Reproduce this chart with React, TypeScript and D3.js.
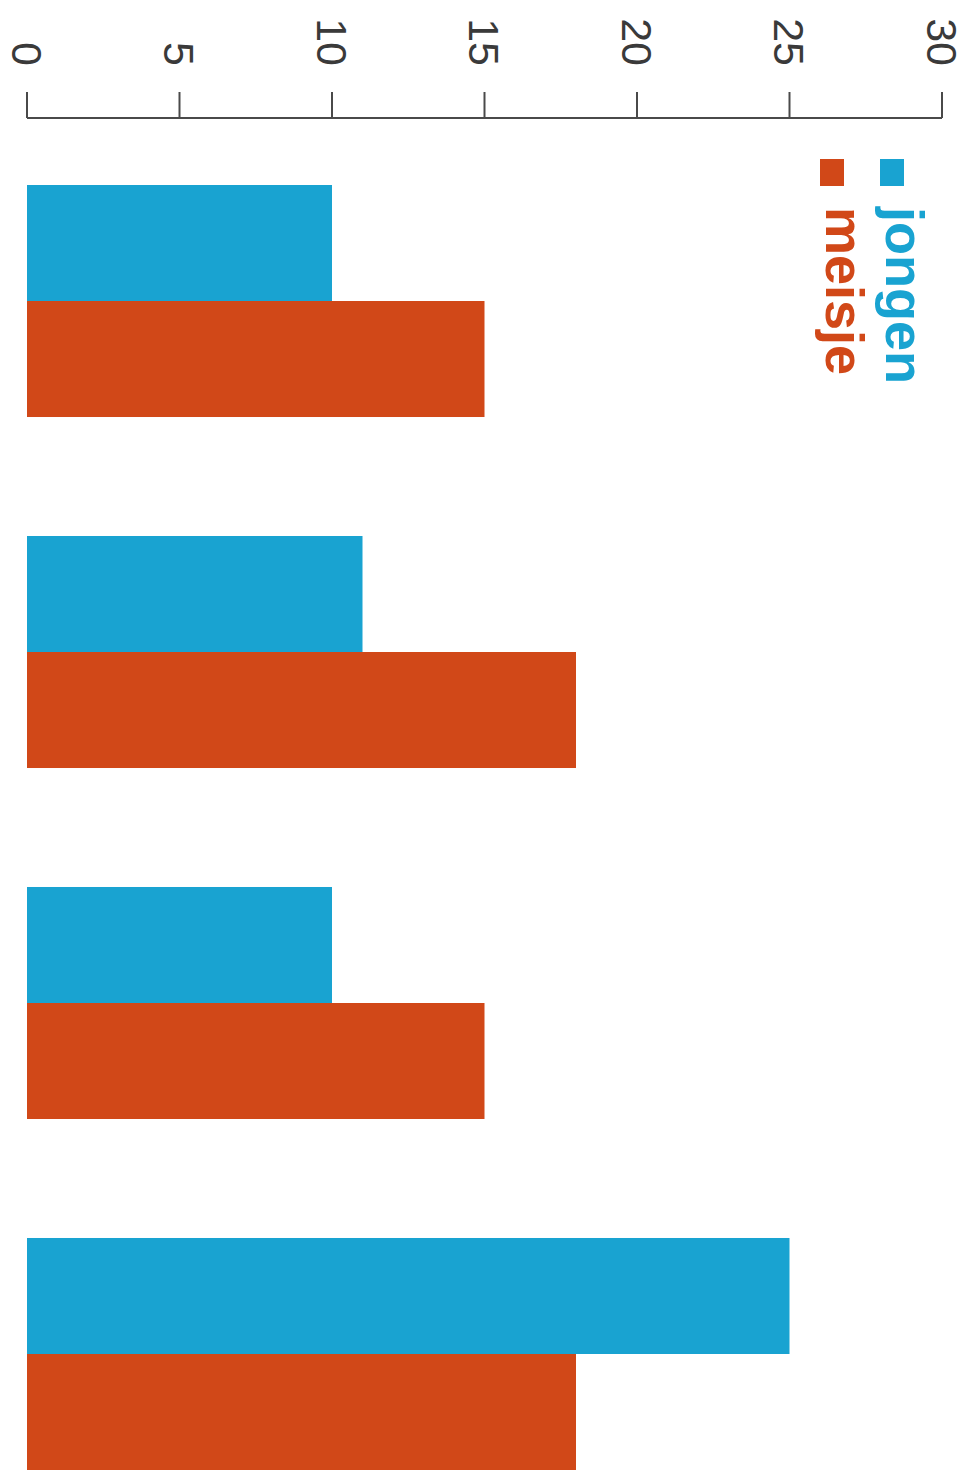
import React from "react";
import * as d3 from "d3";

const categories = ["1", "2", "3", "4"];
const seriesNames = ["jongen", "meisje"];
const jongenValues = [10, 11, 10, 25];
const meisjeValues = [15, 18, 15, 18];
const seriesColors = ["#19A3D1", "#D14818"];
const tickValues = [0, 5, 10, 15, 20, 25, 30];

const W = 967;
const H = 1470;

export default function App() {
  const x = d3.scaleLinear().domain([0, 30]).range([27, 942]);
  const y = d3
    .scaleBand<string>()
    .domain(categories)
    .range([185, 1470])
    .paddingInner(0.339)
    .paddingOuter(0);
  const inner = d3.scaleBand<string>().domain(seriesNames).range([0, y.bandwidth()]);
  const series = [jongenValues, meisjeValues];
  const axisY = 118;
  const axisColor = "#4a4a4a";

  return (
    <svg
      width={W}
      height={H}
      style={{ position: "absolute", left: 0, top: 0, display: "block", background: "#fff" }}
    >
      {/* bars */}
      {categories.map((c, i) => (
        <g key={c}>
          {seriesNames.map((s, j) => (
            <rect
              key={s}
              x={x(0)}
              y={(y(c) as number) + (inner(s) as number)}
              width={x(series[j][i]) - x(0)}
              height={inner.bandwidth()}
              fill={seriesColors[j]}
            />
          ))}
        </g>
      ))}

      {/* axis */}
      <line x1={x(0)} x2={x(30)} y1={axisY} y2={axisY} stroke={axisColor} strokeWidth={2} />
      {tickValues.map((t) => (
        <g key={t}>
          <line x1={x(t)} x2={x(t)} y1={axisY - 26} y2={axisY} stroke={axisColor} strokeWidth={2} />
          <text
            transform={`translate(${x(t) - 15.5},66) rotate(90)`}
            textAnchor="end"
            fontFamily="'Liberation Sans', Arial, sans-serif"
            fontSize={43}
            fill="#3a3a3a"
          >
            {t}
          </text>
        </g>
      ))}

      {/* legend */}
      {seriesNames.map((s, j) => {
        const base = 886 - j * 60;
        return (
          <g key={s}>
            <rect x={base - 6} y={159} width={24} height={27} fill={seriesColors[j]} />
            <text
              transform={`translate(${base},207) rotate(90)`}
              textAnchor="start"
              fontFamily="'Liberation Sans', Arial, sans-serif"
              fontWeight="bold"
              fontSize={54}
              fill={seriesColors[j]}
            >
              {s}
            </text>
          </g>
        );
      })}
    </svg>
  );
}
